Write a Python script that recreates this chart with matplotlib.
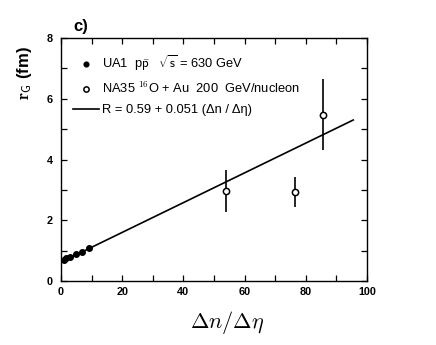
import matplotlib
matplotlib.use("Agg")
import matplotlib.pyplot as plt
from matplotlib.ticker import MultipleLocator

plt.rcParams['font.family'] = ['Liberation Sans', 'DejaVu Sans']
plt.rcParams['mathtext.fontset'] = 'cm'

# UA1 p pbar data (filled dots)
ua1_x = [1.0, 1.5, 3.0, 5.0, 7.0, 9.0]
ua1_y = [0.70, 0.75, 0.80, 0.88, 0.95, 1.07]

# NA35 16O + Au data (open circles with errors)
na35_x = [53.8, 76.6, 85.5]
na35_y = [2.96, 2.93, 5.48]
na35_err = [0.69, 0.50, 1.17]

# fit line as drawn
fit_x = [0.0, 95.5]
fit_y = [0.62, 5.30]

fig = plt.figure(figsize=(4.36, 3.45), dpi=100)
ax = fig.add_axes([61 / 436, 1 - 281 / 345, 306 / 436, 243 / 345])

fit_line, = ax.plot(fit_x, fit_y, color='black', lw=1.2)
ax.errorbar(na35_x, na35_y, yerr=na35_err, fmt='none', ecolor='black',
            elinewidth=1.2, capsize=0)
na35_pts, = ax.plot(na35_x, na35_y, 'o', ls='none', mfc='white', mec='black',
                    mew=1.1, ms=4.5)
ua1_pts, = ax.plot(ua1_x, ua1_y, 'o', ls='none', color='black', ms=4)

ax.set_xlim(0, 100)
ax.set_ylim(0, 8)
ax.xaxis.set_major_locator(MultipleLocator(20))
ax.xaxis.set_minor_locator(MultipleLocator(10))
ax.yaxis.set_major_locator(MultipleLocator(2))
ax.yaxis.set_minor_locator(MultipleLocator(1))
ax.tick_params(which='both', direction='in', top=True, right=True,
               length=4, width=0.9)
ax.tick_params(axis='x', pad=4.5)
ax.tick_params(axis='y', pad=6)
for lab in ax.get_xticklabels() + ax.get_yticklabels():
    lab.set_fontsize(7.8)
    lab.set_fontweight('bold')
for sp in ax.spines.values():
    sp.set_linewidth(1.0)

ax.legend([ua1_pts, na35_pts, fit_line],
          [r'UA1  p$\bar{\mathsf{p}}$   $\sqrt{\mathsf{s}}$ = 630 GeV',
           r'NA35 $^{\mathsf{16}}$O + Au  200  GeV/nucleon',
           r'R = 0.59 + 0.051 (Δn / Δη)'],
          loc='upper left', bbox_to_anchor=(0.022, 0.957), frameon=False,
          fontsize=9.3, handlelength=2.0, handletextpad=0.25,
          labelspacing=0.6, borderaxespad=0, markerscale=0.85)

fig.text(25 / 436, 1 - 73 / 345, r'$\mathbf{r}_{\mathsf{G}}$ (fm)', rotation=90,
         ha='center', va='center', fontsize=12, fontweight='bold')
fig.text(227 / 436, 1 - 323 / 345, r'$\Delta n/\Delta\eta$', ha='center',
         va='center', fontsize=16)
fig.text(73 / 436, 1 - 27 / 345, 'c)', ha='left', va='center', fontsize=12,
         fontweight='bold')

fig.savefig('out.png', dpi=100)
